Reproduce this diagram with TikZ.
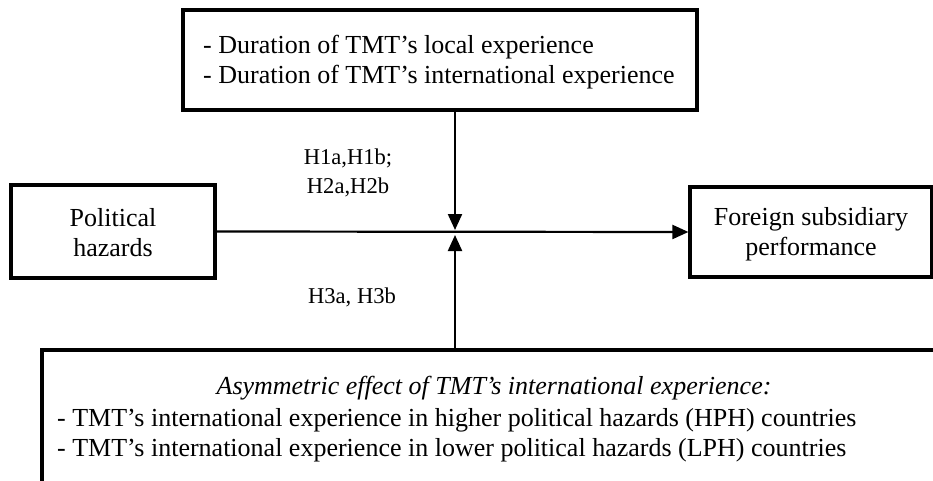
\documentclass[tikz,border=0pt]{standalone}
\usepackage{fontspec}
\setmainfont{Liberation Serif}
\usetikzlibrary{arrows.meta}
\tikzset{
  box/.style={draw=black, line width=3.2pt, rectangle, inner sep=0pt},
  txt/.style={font=\fontsize{26}{30}\selectfont, align=center, inner sep=0pt},
  conn/.style={line width=2.2pt, -{Triangle[length=16pt,width=14pt]}},
  lab/.style={font=\fontsize{22.6}{29}\selectfont, align=center, inner sep=0pt}
}
\begin{document}
\begin{tikzpicture}[x=1pt,y=-1pt]
\useasboundingbox (0,0) rectangle (933,481);
\clip (0,0) rectangle (933,481);
\node[box, minimum width=514pt, minimum height=100pt] (top) at (440,60) {};
\node[txt, align=left, anchor=west] (toptxt) at (203,62) {- Duration of TMT’s local experience\\- Duration of TMT’s international experience};
\node[box, minimum width=204pt, minimum height=93pt] (pol) at (113,231.5) {};
\node[txt] (poltxt) at (113,233) {Political\\hazards};
\node[box, minimum width=242pt, minimum height=90pt] (fsp) at (811,232) {};
\node[txt] (fsptxt) at (811,234.5) {Foreign subsidiary\\performance};
\node[box, line width=4pt, minimum width=908pt, minimum height=150pt] (bot) at (496,425) {};
\node[txt, font=\fontsize{26}{30}\selectfont\itshape] (bothead) at (494,388) {Asymmetric effect of TMT’s international experience:};
\node[txt, align=left, anchor=west] (bottxt) at (57,435.5) {- TMT’s international experience in higher political hazards (HPH) countries\\- TMT’s international experience in lower political hazards (LPH) countries};
\coordinate (jtop) at (455,230);
\coordinate (jbot) at (455,235);
\node[lab] (h12) at (348,173) {H1a,H1b;\\H2a,H2b};
\node[lab] (h3) at (352,297) {H3a, H3b};
\draw[conn] (pol.east) -- (fsp.west);
\draw[conn] (top.south -| jtop) -- (jtop);
\draw[conn] (bot.north -| jbot) -- (jbot);
\end{tikzpicture}
\end{document}
